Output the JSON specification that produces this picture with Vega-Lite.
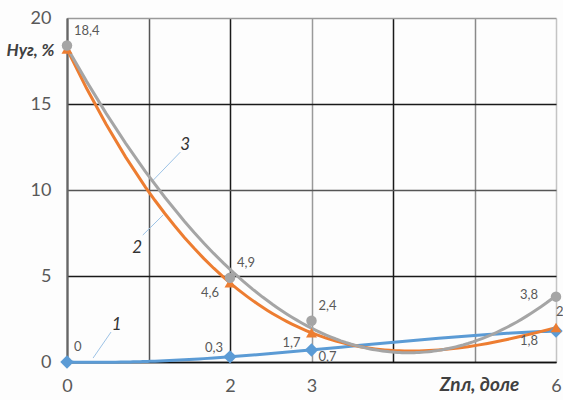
{
  "$schema": "https://vega.github.io/schema/vega-lite/v6.json",
  "width": 489,
  "height": 344,
  "autosize": "none",
  "padding": {"left": 67, "top": 18, "right": 7, "bottom": 38},
  "background": "#fdfdfd",
  "config": {"view": {"stroke": null}, "font": "Lato"},
  "datasets": {
    "pts": [
      {"series": "1", "x": 0, "y": 0, "label": "0"},
      {"series": "1", "x": 2, "y": 0.3, "label": "0,3"},
      {"series": "1", "x": 3, "y": 0.7, "label": "0,7"},
      {"series": "1", "x": 6, "y": 1.8, "label": "1,8"},
      {"series": "2", "x": 0, "y": 18.2, "label": ""},
      {"series": "2", "x": 2, "y": 4.6, "label": "4,6"},
      {"series": "2", "x": 3, "y": 1.7, "label": "1,7"},
      {"series": "2", "x": 6, "y": 2, "label": "2"},
      {"series": "3", "x": 0, "y": 18.4, "label": "18,4"},
      {"series": "3", "x": 2, "y": 4.9, "label": "4,9"},
      {"series": "3", "x": 3, "y": 2.4, "label": "2,4"},
      {"series": "3", "x": 6, "y": 3.8, "label": "3,8"}
    ],
    "notes": [
      {"n": "1", "x": 0.61, "y": 2.15},
      {"n": "3", "x": 1.45, "y": 12.6},
      {"n": "2", "x": 0.86, "y": 6.6}
    ],
    "leaders": [
      {"x": 0.32, "y": 0.23, "x2": 0.54, "y2": 1.74},
      {"x": 1.06, "y": 10.58, "x2": 1.39, "y2": 12.2},
      {"x": 0.93, "y": 7.38, "x2": 1.18, "y2": 8.55}
    ]
  },
  "layer": [
    {
      "data": {"name": "pts"},
      "mark": {"type": "point", "opacity": 0},
      "encoding": {
        "x": {
          "field": "x", "type": "quantitative",
          "scale": {"domain": [0, 6], "nice": false},
          "axis": {
            "values": [0, 1, 2, 3, 4, 5, 6],
            "format": "d",
            "labelExpr": "indexof([0,2,3,6], datum.value) >= 0 ? datum.label : ''",
            "labelFontSize": 18, "labelColor": "#595959", "labelPadding": 15,
            "labelFlush": false,
            "ticks": false,
            "domainColor": "#111111", "domainWidth": 1.5,
            "grid": true, "gridWidth": 1.5,
            "gridColor": {
              "condition": [
                {"test": "datum.value == 3", "value": "#9a9a9a"},
                {"test": "datum.value == 5", "value": "#8a8a8a"},
                {"test": "datum.value == 6", "value": "#c4c4c4"},
                {"test": "datum.value == 1", "value": "#555555"}
              ],
              "value": "#1a1a1a"
            },
            "title": "Zпл, доле",
            "titleFontSize": 19, "titleFontWeight": "bold", "titleFontStyle": "italic",
            "titleColor": "#404040",
            "titleX": 412, "titleY": 22, "titleAlign": "center", "titleBaseline": "middle"
          }
        },
        "y": {
          "field": "y", "type": "quantitative",
          "scale": {"domain": [0, 20], "nice": false},
          "axis": {
            "values": [0, 5, 10, 15, 20],
            "format": "d",
            "labelFontSize": 18, "labelColor": "#595959", "labelPadding": 16,
            "ticks": false,
            "domainColor": "#666666", "domainWidth": 2,
            "grid": true, "gridWidth": 1.5,
            "gridColor": {
              "condition": [
                {"test": "datum.value == 20", "value": "#9a9a9a"},
                {"test": "datum.value == 10", "value": "#555555"}
              ],
              "value": "#1a1a1a"
            },
            "title": "Hуг, %",
            "titleAngle": 0,
            "titleFontSize": 17, "titleFontWeight": "bold", "titleFontStyle": "italic",
            "titleColor": "#404040",
            "titleX": -37, "titleY": 32, "titleAlign": "center", "titleBaseline": "middle"
          }
        }
      }
    },
    {
      "data": {"name": "leaders"},
      "mark": {"type": "rule", "color": "#9DC3E6", "strokeWidth": 1},
      "encoding": {
        "x": {"field": "x", "type": "quantitative"},
        "y": {"field": "y", "type": "quantitative"},
        "x2": {"field": "x2"},
        "y2": {"field": "y2"}
      }
    },
    {
      "data": {"name": "notes"},
      "mark": {"type": "text", "fontSize": 17, "fontStyle": "italic", "color": "#333333"},
      "encoding": {
        "x": {"field": "x", "type": "quantitative"},
        "y": {"field": "y", "type": "quantitative"},
        "text": {"field": "n"}
      }
    },
    {
      "data": {"name": "pts"},
      "transform": [
        {"filter": "datum.series == '1'"},
        {"regression": "y", "on": "x", "method": "poly", "order": 3, "extent": [0, 6]}
      ],
      "mark": {"type": "line", "color": "#5B9BD5", "strokeWidth": 3},
      "encoding": {
        "x": {"field": "x", "type": "quantitative"},
        "y": {"field": "y", "type": "quantitative"}
      }
    },
    {
      "data": {"name": "pts"},
      "transform": [
        {"filter": "datum.series == '2'"},
        {"regression": "y", "on": "x", "method": "poly", "order": 3, "extent": [0, 6]}
      ],
      "mark": {"type": "line", "color": "#ED7D31", "strokeWidth": 3},
      "encoding": {
        "x": {"field": "x", "type": "quantitative"},
        "y": {"field": "y", "type": "quantitative"}
      }
    },
    {
      "data": {"name": "pts"},
      "transform": [
        {"filter": "datum.series == '3'"},
        {"regression": "y", "on": "x", "method": "poly", "order": 2, "extent": [0, 6]}
      ],
      "mark": {"type": "line", "color": "#A5A5A5", "strokeWidth": 3},
      "encoding": {
        "x": {"field": "x", "type": "quantitative"},
        "y": {"field": "y", "type": "quantitative"}
      }
    },
    {
      "data": {"name": "pts"},
      "transform": [{"filter": "datum.series == '1'"}],
      "mark": {"type": "point", "shape": "diamond", "filled": true, "size": 180, "color": "#5B9BD5", "opacity": 1},
      "encoding": {
        "x": {"field": "x", "type": "quantitative"},
        "y": {"field": "y", "type": "quantitative"}
      }
    },
    {
      "data": {"name": "pts"},
      "transform": [{"filter": "datum.series == '2'"}],
      "mark": {"type": "point", "shape": "triangle-up", "filled": true, "size": 120, "color": "#ED7D31", "opacity": 1},
      "encoding": {
        "x": {"field": "x", "type": "quantitative"},
        "y": {"field": "y", "type": "quantitative"}
      }
    },
    {
      "data": {"name": "pts"},
      "transform": [{"filter": "datum.series == '3'"}],
      "mark": {"type": "point", "shape": "circle", "filled": true, "size": 110, "color": "#A5A5A5", "opacity": 1},
      "encoding": {
        "x": {"field": "x", "type": "quantitative"},
        "y": {"field": "y", "type": "quantitative"}
      }
    },
    {
      "data": {"name": "pts"},
      "transform": [{"filter": "(datum.series == '3' && datum.x < 6) || (datum.series == '1' && datum.x == 0)"}],
      "mark": {"type": "text", "align": "left", "baseline": "middle", "dx": 7, "dy": -15, "fontSize": 13, "color": "#595959"},
      "encoding": {
        "x": {"field": "x", "type": "quantitative"},
        "y": {"field": "y", "type": "quantitative"},
        "text": {"field": "label"}
      }
    },
    {
      "data": {"name": "pts"},
      "transform": [{"filter": "datum.series == '3' && datum.x == 6"}],
      "mark": {"type": "text", "align": "right", "baseline": "middle", "dx": -18, "dy": -2, "fontSize": 13, "color": "#595959"},
      "encoding": {
        "x": {"field": "x", "type": "quantitative"},
        "y": {"field": "y", "type": "quantitative"},
        "text": {"field": "label"}
      }
    },
    {
      "data": {"name": "pts"},
      "transform": [{"filter": "datum.series == '2' && (datum.x == 2 || datum.x == 3)"}],
      "mark": {"type": "text", "align": "right", "baseline": "middle", "dx": -11, "dy": 10, "fontSize": 13, "color": "#595959"},
      "encoding": {
        "x": {"field": "x", "type": "quantitative"},
        "y": {"field": "y", "type": "quantitative"},
        "text": {"field": "label"}
      }
    },
    {
      "data": {"name": "pts"},
      "transform": [{"filter": "datum.series == '2' && datum.x == 6"}],
      "mark": {"type": "text", "align": "left", "baseline": "middle", "dx": 0, "dy": -16, "fontSize": 13, "color": "#595959"},
      "encoding": {
        "x": {"field": "x", "type": "quantitative"},
        "y": {"field": "y", "type": "quantitative"},
        "text": {"field": "label"}
      }
    },
    {
      "data": {"name": "pts"},
      "transform": [{"filter": "datum.series == '1' && datum.x == 2"}],
      "mark": {"type": "text", "align": "right", "baseline": "middle", "dx": -7, "dy": -9, "fontSize": 13, "color": "#595959"},
      "encoding": {
        "x": {"field": "x", "type": "quantitative"},
        "y": {"field": "y", "type": "quantitative"},
        "text": {"field": "label"}
      }
    },
    {
      "data": {"name": "pts"},
      "transform": [{"filter": "datum.series == '1' && datum.x == 3"}],
      "mark": {"type": "text", "align": "left", "baseline": "middle", "dx": 7, "dy": 7, "fontSize": 13, "color": "#595959"},
      "encoding": {
        "x": {"field": "x", "type": "quantitative"},
        "y": {"field": "y", "type": "quantitative"},
        "text": {"field": "label"}
      }
    },
    {
      "data": {"name": "pts"},
      "transform": [{"filter": "datum.series == '1' && datum.x == 6"}],
      "mark": {"type": "text", "align": "right", "baseline": "middle", "dx": -18, "dy": 10, "fontSize": 13, "color": "#595959"},
      "encoding": {
        "x": {"field": "x", "type": "quantitative"},
        "y": {"field": "y", "type": "quantitative"},
        "text": {"field": "label"}
      }
    }
  ]
}
